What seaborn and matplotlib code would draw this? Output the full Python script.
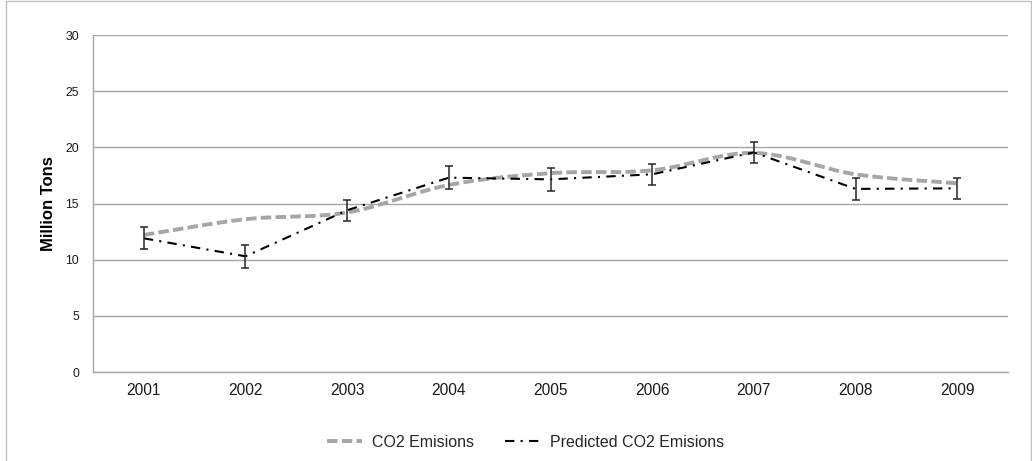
import numpy as np
import pandas as pd
import matplotlib
matplotlib.use("Agg")
import matplotlib.pyplot as plt
from matplotlib.lines import Line2D
import seaborn as sns

# ---- data ----
years = ["2001", "2002", "2003", "2004", "2005", "2006", "2007", "2008", "2009"]
co2_emissions = [12.2, 13.6, 14.2, 16.65, 17.7, 17.95, 19.5, 17.6, 16.8]
predicted_co2 = [11.9, 10.3, 14.4, 17.3, 17.15, 17.6, 19.55, 16.3, 16.35]
predicted_err = [0.97, 1.0, 0.94, 1.0, 1.0, 0.96, 0.96, 0.97, 0.96]
y_ticks = [0, 5, 10, 15, 20, 25, 30]
y_label = "Million Tons"
legend_labels = ["CO2 Emisions", "Predicted CO2 Emisions"]

sns.set_theme(style="white")
plt.rcParams["font.family"] = ["Liberation Sans", "DejaVu Sans"]

GRID = "#a6a6a6"

fig = plt.figure(figsize=(10.32, 4.61), dpi=100)
ax = fig.add_axes([93 / 1032, 1 - 372 / 461, 915 / 1032, 337 / 461])

xpos = np.arange(len(years), dtype=float)


def smooth_curve(x, y, n=40):
    """Excel-style smoothed line: cubic Bezier segments (Catmull-Rom, 1/6 tension)."""
    x = np.asarray(x, float)
    y = np.asarray(y, float)
    px = np.concatenate([[x[0]], x, [x[-1]]])
    py = np.concatenate([[y[0]], y, [y[-1]]])
    xs, ys = [], []
    t = np.linspace(0, 1, n)
    for i in range(len(x) - 1):
        p0 = np.array([px[i + 1], py[i + 1]])
        p3 = np.array([px[i + 2], py[i + 2]])
        p1 = p0 + (p3 - np.array([px[i], py[i]])) / 6.0
        p2 = p3 - (np.array([px[i + 3], py[i + 3]]) - p0) / 6.0
        b = ((1 - t) ** 3)[:, None] * p0 + (3 * (1 - t) ** 2 * t)[:, None] * p1 \
            + (3 * (1 - t) * t ** 2)[:, None] * p2 + (t ** 3)[:, None] * p3
        xs.append(b[:, 0] if i == 0 else b[1:, 0])
        ys.append(b[:, 1] if i == 0 else b[1:, 1])
    return np.concatenate(xs), np.concatenate(ys)


sx, sy = smooth_curve(xpos, co2_emissions)
df_smooth = pd.DataFrame({"x": sx, "y": sy})
df_pred = pd.DataFrame({"x": xpos, "y": predicted_co2})

co2_style = dict(color="#a6a6a6", linewidth=2.8, dashes=(2.7, 1.1))
pred_style = dict(color="black", linewidth=1.5, dashes=(4.5, 3.0, 1.0, 3.0))

sns.lineplot(data=df_smooth, x="x", y="y", ax=ax, sort=False, estimator=None,
             color=co2_style["color"], linewidth=co2_style["linewidth"], zorder=3)
ax.lines[-1].set_dashes(co2_style["dashes"])
sns.lineplot(data=df_pred, x="x", y="y", ax=ax, sort=False, estimator=None,
             color=pred_style["color"], linewidth=pred_style["linewidth"], zorder=4)
ax.lines[-1].set_dashes(pred_style["dashes"])

ax.errorbar(xpos, predicted_co2, yerr=predicted_err, fmt="none", ecolor="#262626",
            elinewidth=1.1, capsize=3, capthick=1.1, zorder=5)

# axes styling
ax.set_xlim(-0.5, len(years) - 0.5)
ax.set_ylim(0, 30)
ax.set_yticks(y_ticks)
ax.set_yticklabels([str(v) for v in y_ticks], fontsize=8.8, color="#1a1a1a")
ax.set_xticks(xpos)
ax.set_xticklabels(years, fontsize=11.2, color="#1a1a1a")
ax.set_xticks(np.arange(-0.5, len(years), 1.0), minor=True)
ax.tick_params(axis="x", which="major", length=0, pad=8)
ax.tick_params(axis="x", which="minor", length=4, width=1, color=GRID, direction="out")
ax.tick_params(axis="y", which="major", length=0, pad=10)
ax.grid(axis="y", color=GRID, linewidth=1)
ax.grid(axis="x", visible=False)
ax.set_axisbelow(True)
for side in ["top", "right"]:
    ax.spines[side].set_visible(False)
for side in ["left", "bottom"]:
    ax.spines[side].set_color(GRID)
    ax.spines[side].set_linewidth(1)

ax.set_xlabel("")
ax.set_ylabel(y_label, fontsize=12, fontweight="bold", color="black")
ax.yaxis.set_label_coords(-0.040, 0.5)

handles = [
    Line2D([], [], color=co2_style["color"], linewidth=co2_style["linewidth"],
           dashes=co2_style["dashes"]),
    Line2D([], [], color=pred_style["color"], linewidth=pred_style["linewidth"],
           dashes=pred_style["dashes"]),
]
fig.legend(handles, legend_labels, loc="center", bbox_to_anchor=(525.5 / 1032, 1 - 442 / 461),
           ncol=2, frameon=False, fontsize=11.5, handlelength=2.2, handletextpad=0.6,
           columnspacing=1.95)

# chart-area border
for xs_, ys_ in [([6 / 1032, 6 / 1032], [0, 1 - 1 / 461]),
                 ([6 / 1032, 1031 / 1032], [1 - 1 / 461, 1 - 1 / 461]),
                 ([1031 / 1032, 1031 / 1032], [0, 1 - 1 / 461])]:
    fig.add_artist(Line2D(xs_, ys_, transform=fig.transFigure, color="#bfbfbf", linewidth=1))

fig.savefig("out.png", dpi=100)
